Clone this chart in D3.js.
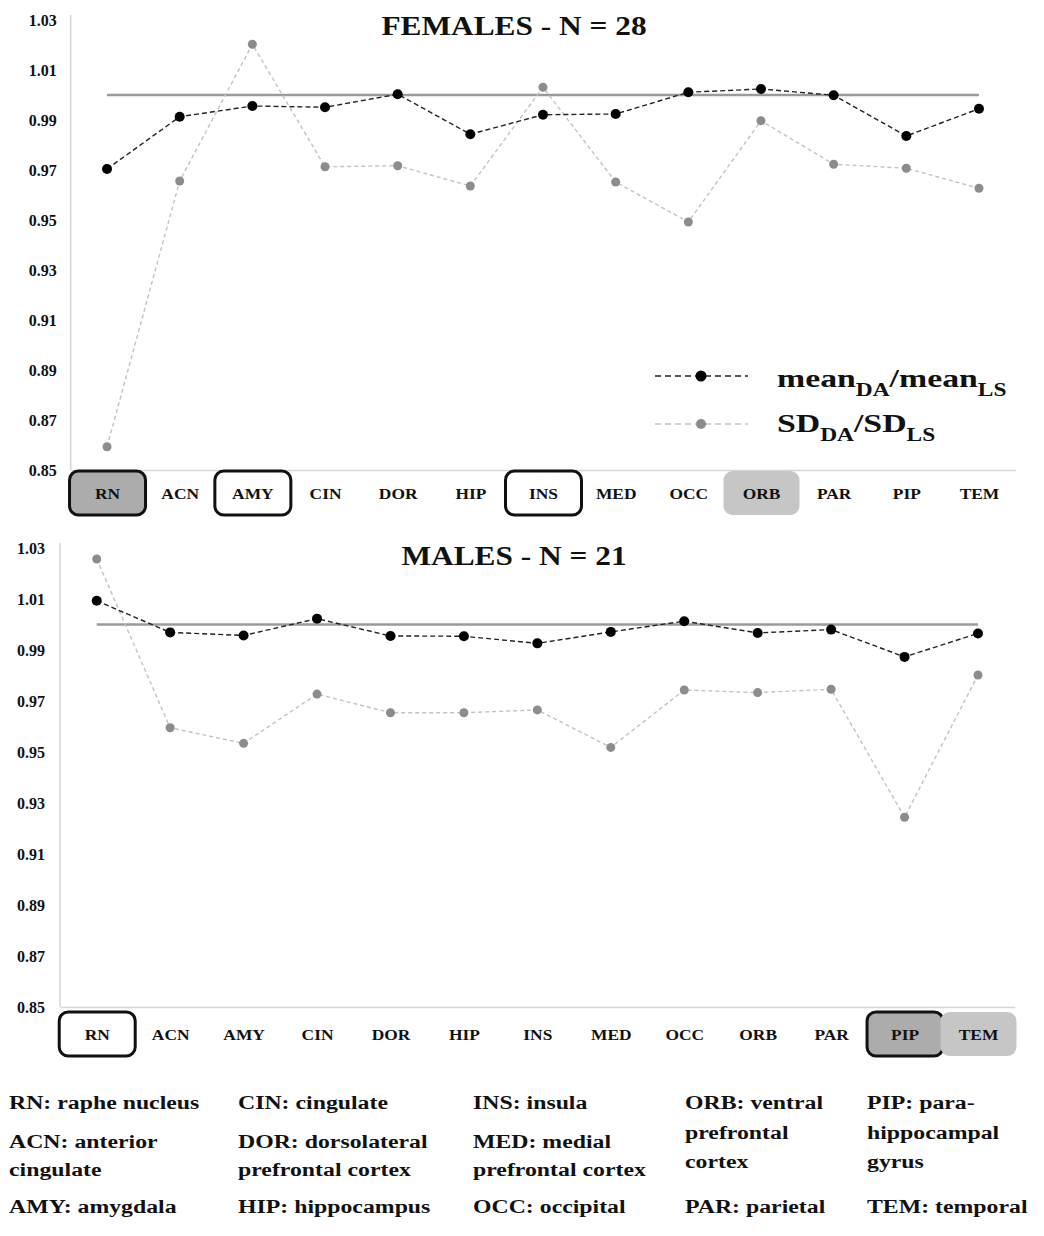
<!DOCTYPE html>
<html>
<head>
<meta charset="utf-8">
<script src="https://cdn.jsdelivr.net/npm/d3@7"></script>
<style>
  body { margin: 0; background: #fff; }
  svg { display: block; }
  text { font-family: "Liberation Serif", "Times New Roman", serif; font-weight: bold; fill: #111; }
</style>
</head>
<body>
<svg id="chart" width="1044" height="1236"></svg>
<script>
// Brain regions on the x axis
const regions = ["RN", "ACN", "AMY", "CIN", "DOR", "HIP", "INS", "MED", "OCC", "ORB", "PAR", "PIP", "TEM"];
const yTicks = [0.85, 0.87, 0.89, 0.91, 0.93, 0.95, 0.97, 0.99, 1.01, 1.03];
const yDomain = [0.85, 1.03];
const referenceValue = 1.0;

// Ratios, females
const femaleMean = [0.9704, 0.9913, 0.9956, 0.9951, 1.0003, 0.9843, 0.9921, 0.9924, 1.0011, 1.0024, 0.9999, 0.9836, 0.9945];
const femaleSD   = [0.8593, 0.9656, 1.0203, 0.9713, 0.9717, 0.9636, 1.0031, 0.9652, 0.9492, 0.9897, 0.9723, 0.9707, 0.9627];
// Ratios, males
const maleMean = [1.0093, 0.9969, 0.9957, 1.0023, 0.9955, 0.9954, 0.9926, 0.9971, 1.0013, 0.9967, 0.9980, 0.9873, 0.9965];
const maleSD   = [1.0257, 0.9595, 0.9534, 0.9727, 0.9654, 0.9654, 0.9665, 0.9518, 0.9743, 0.9733, 0.9746, 0.9244, 0.9802];

// Highlighted regions on each x axis
const femaleOutlined = ["RN", "AMY", "INS"];
const femaleShaded   = ["RN", "ORB"];
const maleOutlined   = ["RN", "PIP"];
const maleShaded     = ["PIP", "TEM"];

// Abbreviation key, one array of entries per column (each entry = its lines)
const keyColumns = [
  [["RN: raphe nucleus"], ["ACN: anterior", "cingulate"], ["AMY: amygdala"]],
  [["CIN: cingulate"], ["DOR: dorsolateral", "prefrontal cortex"], ["HIP: hippocampus"]],
  [["INS: insula"], ["MED: medial", "prefrontal cortex"], ["OCC: occipital"]],
  [["ORB: ventral", "prefrontal", "cortex"], ["PAR: parietal"]],
  [["PIP: para-", "hippocampal", "gyrus"], ["TEM: temporal"]]
];

const svg = d3.select("#chart");

function drawPanel(cfg) {
  const x = d3.scalePoint().domain(regions).range(cfg.xRange).padding(0.5);
  const y = d3.scaleLinear().domain(yDomain).range(cfg.yRange);
  const g = svg.append("g");
  const yBase = cfg.yRange[0];

  // vertical axis line
  g.append("line")
    .attr("x1", cfg.xRange[0]).attr("x2", cfg.xRange[0])
    .attr("y1", cfg.yRange[1] - 5).attr("y2", yBase)
    .attr("stroke", "#d6d6d6").attr("stroke-width", 1.5);

  // y axis labels
  const yAxis = g.append("g")
    .attr("transform", `translate(${cfg.xRange[0]},0)`)
    .call(d3.axisLeft(y).tickValues(yTicks).tickFormat(d3.format(".2f")).tickSize(0).tickPadding(cfg.tickPad));
  yAxis.select(".domain").remove();
  yAxis.selectAll("text").attr("font-size", cfg.yFont).attr("font-family", null).attr("fill", "#111");

  // x axis with region labels
  const xAxis = g.append("g")
    .attr("transform", `translate(0,${yBase})`)
    .call(d3.axisBottom(x).tickSize(0).tickSizeOuter(0));
  xAxis.select(".domain").attr("stroke", "#d6d6d6").attr("stroke-width", 1.5);
  xAxis.selectAll(".tick").each(function (d) {
    const tick = d3.select(this);
    const outlined = cfg.outlined.includes(d);
    const shaded = cfg.shaded.includes(d);
    if (outlined || shaded) {
      tick.insert("rect", "text")
        .attr("x", -38).attr("y", cfg.boxTop)
        .attr("width", 76).attr("height", 44)
        .attr("rx", 9)
        .attr("fill", shaded ? (outlined ? "#acacac" : "#c6c6c6") : "none")
        .attr("stroke", outlined ? "#111" : "none")
        .attr("stroke-width", 3);
    }
    tick.select("text")
      .attr("y", cfg.labelY).attr("dy", "0.35em")
      .attr("font-size", 14.5).attr("font-family", null)
      .attr("transform", "scale(1.2,1)")
      .attr("fill", shaded ? "#555" : "#111");
  });

  // reference line at 1.00
  g.append("line")
    .attr("x1", x(regions[0])).attr("x2", x(regions[regions.length - 1]))
    .attr("y1", y(referenceValue)).attr("y2", y(referenceValue))
    .attr("stroke", "#9a9a9a").attr("stroke-width", 2.5);

  const line = d3.line().x((d, i) => x(regions[i])).y(d => y(d));

  // SD ratio series
  g.append("path").datum(cfg.sd)
    .attr("d", line).attr("fill", "none")
    .attr("stroke", "#c2c2c2").attr("stroke-width", 1.4).attr("stroke-dasharray", "4,3");
  g.selectAll(".sdpt").data(cfg.sd).join("circle")
    .attr("cx", (d, i) => x(regions[i])).attr("cy", d => y(d))
    .attr("r", 4.5).attr("fill", "#8c8c8c");

  // mean ratio series
  g.append("path").datum(cfg.mean)
    .attr("d", line).attr("fill", "none")
    .attr("stroke", "#222").attr("stroke-width", 1.4).attr("stroke-dasharray", "5,3");
  g.selectAll(".mpt").data(cfg.mean).join("circle")
    .attr("cx", (d, i) => x(regions[i])).attr("cy", d => y(d))
    .attr("r", 5).attr("fill", "#000");

  // panel title
  g.append("text")
    .attr("transform", `translate(514,${cfg.titleY}) scale(1.12,1)`)
    .attr("text-anchor", "middle")
    .attr("font-size", 28)
    .text(cfg.title);
}

drawPanel({
  title: "FEMALES - N = 28",
  mean: femaleMean, sd: femaleSD,
  outlined: femaleOutlined, shaded: femaleShaded,
  xRange: [70.7, 1015.3], yRange: [470, 20],
  tickPad: 14, yFont: 16, boxTop: 1, labelY: 24, titleY: 35
});

drawPanel({
  title: "MALES - N = 21",
  mean: maleMean, sd: maleSD,
  outlined: maleOutlined, shaded: maleShaded,
  xRange: [60, 1014.7], yRange: [1007, 548],
  tickPad: 15, yFont: 16, boxTop: 5, labelY: 28, titleY: 565
});

// legend (upper panel)
const legend = svg.append("g");
const legendItems = [
  { y: 376, stroke: "#222", fill: "#000", r: 5.5, main: "mean", sub: "DA", main2: "/mean", sub2: "LS", ty: 387 },
  { y: 424, stroke: "#c2c2c2", fill: "#8c8c8c", r: 5, main: "SD", sub: "DA", main2: "/SD", sub2: "LS", ty: 432 }
];
legendItems.forEach(it => {
  legend.append("line")
    .attr("x1", 655).attr("x2", 748).attr("y1", it.y).attr("y2", it.y)
    .attr("stroke", it.stroke).attr("stroke-width", 1.4).attr("stroke-dasharray", "6,4");
  legend.append("circle").attr("cx", 701).attr("cy", it.y).attr("r", it.r).attr("fill", it.fill);
  const t = legend.append("text")
    .attr("transform", `translate(777,${it.ty}) scale(1.3,1)`)
    .attr("font-size", 26);
  t.append("tspan").text(it.main);
  t.append("tspan").attr("font-size", 18).attr("dy", 9).text(it.sub);
  t.append("tspan").attr("dy", -9).text(it.main2);
  t.append("tspan").attr("font-size", 18).attr("dy", 9).text(it.sub2);
});

// abbreviation key
const colX = [9, 238, 473, 685, 867];
const entryY = [[1109, 1148, 1213], [1109, 1148, 1213], [1109, 1148, 1213], [1109, 1213], [1109, 1213]];
const key = svg.append("g");
keyColumns.forEach((col, ci) => {
  col.forEach((entry, ei) => {
    const lh = entry.length === 3 ? 29.5 : 28;
    entry.forEach((ln, li) => {
      key.append("text")
        .attr("transform", `translate(${colX[ci]},${entryY[ci][ei] + li * lh}) scale(1.22,1)`)
        .attr("font-size", 19.5)
        .text(ln);
    });
  });
});
</script>
</body>
</html>
